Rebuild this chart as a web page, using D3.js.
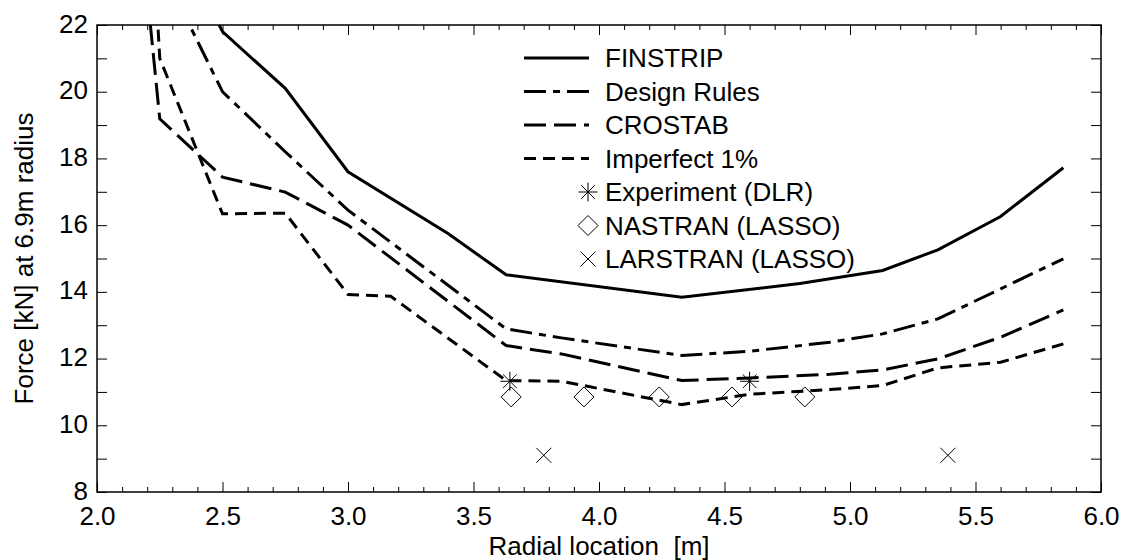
<!DOCTYPE html>
<html>
<head>
<meta charset="utf-8">
<script src="https://cdn.jsdelivr.net/npm/d3@7"></script>
<style>
  html, body { margin: 0; padding: 0; background: #fff; }
  svg { display: block; }
  text { font-family: "Liberation Sans", Arial, Helvetica, sans-serif; fill: #000; }
</style>
</head>
<body>
<svg id="chart" width="1124" height="560"></svg>
<script>
// ---------------- data ----------------
const finstripX = [2.45, 2.5, 2.75, 3.0, 3.4, 3.63, 4.33, 4.8, 5.13, 5.35, 5.6, 5.85];
const finstripY = [22.55, 21.8, 20.1, 17.6, 15.74, 14.51, 13.84, 14.25, 14.64, 15.26, 16.26, 17.72];

const designX = [2.25, 2.5, 2.75, 3.0, 3.63, 3.85, 4.33, 4.6, 4.92, 5.13, 5.35, 5.6, 5.85];
const designY = [23.8, 20.0, 18.2, 16.45, 12.89, 12.62, 12.09, 12.22, 12.49, 12.74, 13.19, 14.09, 14.99];

const crostabX = [2.2, 2.25, 2.5, 2.75, 3.0, 3.63, 3.85, 4.33, 4.6, 4.92, 5.13, 5.35, 5.6, 5.85];
const crostabY = [22.95, 19.19, 17.44, 16.99, 16.0, 12.39, 12.14, 11.34, 11.42, 11.53, 11.66, 11.99, 12.64, 13.46];

const imperfX = [2.235, 2.25, 2.5, 2.75, 3.0, 3.17, 3.63, 3.85, 4.33, 4.6, 4.92, 5.13, 5.35, 5.6, 5.85];
const imperfY = [23.0, 21.0, 16.34, 16.36, 13.92, 13.87, 11.34, 11.32, 10.62, 10.93, 11.07, 11.19, 11.72, 11.89, 12.44];

const experimentX = [3.645, 4.6];
const experimentY = [11.32, 11.32];

const nastranX = [3.65, 3.94, 4.24, 4.53, 4.82];
const nastranY = [10.85, 10.85, 10.85, 10.85, 10.85];

const larstranX = [3.78, 5.39];
const larstranY = [9.1, 9.1];

const xMajorTicks = [2.0, 2.5, 3.0, 3.5, 4.0, 4.5, 5.0, 5.5, 6.0];
const yTicks = [8, 9, 10, 11, 12, 13, 14, 15, 16, 17, 18, 19, 20, 21, 22];

const seriesNames = ["FINSTRIP", "Design Rules", "CROSTAB", "Imperfect 1%",
                     "Experiment (DLR)", "NASTRAN (LASSO)", "LARSTRAN (LASSO)"];

// ---------------- layout ----------------
const svg = d3.select("#chart");
const L = 97, R = 1101, T = 25, B = 492;
const x = d3.scaleLinear().domain([2, 6]).range([L, R]);
const y = d3.scaleLinear().domain([8, 22]).range([B, T]);
const FS = 26;

const xMinorTicks = d3.range(20, 61).map(v => v / 10).filter(v => !xMajorTicks.some(m => Math.abs(m - v) < 1e-9));

// clip
svg.append("defs").append("clipPath").attr("id", "plotclip")
  .append("rect").attr("x", L).attr("y", T).attr("width", R - L).attr("height", B - T);

function styleAxis(g, showLabels) {
  g.select(".domain").remove();
  g.selectAll(".tick line").attr("stroke", "#000").attr("stroke-width", 1);
  g.selectAll(".tick text").attr("font-size", FS).attr("font-family", "Liberation Sans, Arial, sans-serif").attr("fill", "#000");
  if (!showLabels) g.selectAll(".tick text").remove();
}

// bottom axis
svg.append("g").attr("transform", `translate(0,${B})`)
  .call(d3.axisBottom(x).tickValues(xMajorTicks).tickSize(-10).tickPadding(15).tickFormat(d3.format(".1f")))
  .call(g => styleAxis(g, true));
svg.append("g").attr("transform", `translate(0,${B})`)
  .call(d3.axisBottom(x).tickValues(xMinorTicks).tickSize(-5))
  .call(g => styleAxis(g, false));
// top axis
svg.append("g").attr("transform", `translate(0,${T})`)
  .call(d3.axisTop(x).tickValues(xMajorTicks).tickSize(-10))
  .call(g => styleAxis(g, false));
svg.append("g").attr("transform", `translate(0,${T})`)
  .call(d3.axisTop(x).tickValues(xMinorTicks).tickSize(-5))
  .call(g => styleAxis(g, false));
// left axis
svg.append("g").attr("transform", `translate(${L},0)`)
  .call(d3.axisLeft(y).tickValues(yTicks).tickSize(-10).tickPadding(9)
        .tickFormat(d => (d % 2 === 0 ? d3.format("d")(d) : "")))
  .call(g => styleAxis(g, true))
  .call(g => g.selectAll(".tick text").attr("dy", "0.27em"));
// right axis
svg.append("g").attr("transform", `translate(${R},0)`)
  .call(d3.axisRight(y).tickValues(yTicks).tickSize(-10))
  .call(g => styleAxis(g, false));

// frame
svg.append("rect").attr("x", L).attr("y", T).attr("width", R - L).attr("height", B - T)
  .attr("fill", "none").attr("stroke", "#000").attr("stroke-width", 1.5);

// axis titles
svg.append("text").attr("x", (L + R) / 2).attr("y", 555).attr("text-anchor", "middle")
  .attr("font-size", FS).style("white-space", "pre").text("Radial location  [m]");
svg.append("text").attr("transform", `translate(33,${(T + B) / 2}) rotate(-90)`)
  .attr("text-anchor", "middle").attr("font-size", FS).text("Force [kN] at 6.9m radius");

// lines
const lineGen = d3.line().x(d => x(d[0])).y(d => y(d[1]));
const lineSeries = [
  { name: seriesNames[0], xs: finstripX, ys: finstripY, dash: null },
  { name: seriesNames[1], xs: designX, ys: designY, dash: "22,7,7,7" },
  { name: seriesNames[2], xs: crostabX, ys: crostabY, dash: "22,8" },
  { name: seriesNames[3], xs: imperfX, ys: imperfY, dash: "12,7" },
];
const plotG = svg.append("g").attr("clip-path", "url(#plotclip)");
lineSeries.forEach(s => {
  plotG.append("path")
    .datum(d3.zip(s.xs, s.ys))
    .attr("d", lineGen)
    .attr("fill", "none").attr("stroke", "#000").attr("stroke-width", 3)
    .attr("stroke-linejoin", "miter")
    .attr("stroke-dasharray", s.dash);
});

// marker shapes
function asterisk(r) {
  const d = r * 0.72;
  return `M0,${-r}L0,${r}M${-r},0L${r},0M${-d},${-d}L${d},${d}M${-d},${d}L${d},${-d}`;
}
function diamond(r) { return `M0,${-r}L${r},0L0,${r}L${-r},0Z`; }
function cross(r) { return `M${-r},${-r}L${r},${r}M${-r},${r}L${r},${-r}`; }

const markerSeries = [
  { xs: experimentX, ys: experimentY, path: asterisk(9.5) },
  { xs: nastranX, ys: nastranY, path: diamond(10) },
  { xs: larstranX, ys: larstranY, path: cross(7.5) },
];
markerSeries.forEach(s => {
  svg.append("g").selectAll("path").data(d3.zip(s.xs, s.ys)).join("path")
    .attr("transform", d => `translate(${x(d[0])},${y(d[1])})`)
    .attr("d", s.path).attr("fill", "none").attr("stroke", "#000").attr("stroke-width", 1);
});

// legend
const legX0 = 524, legX1 = 589, legTextX = 605, legY0 = 58, legDy = 33.5;
const legG = svg.append("g");
lineSeries.forEach((s, i) => {
  const yy = legY0 + i * legDy;
  legG.append("line").attr("x1", legX0).attr("x2", legX1).attr("y1", yy).attr("y2", yy)
    .attr("stroke", "#000").attr("stroke-width", 3).attr("stroke-dasharray", s.dash);
  legG.append("text").attr("x", legTextX).attr("y", yy).attr("dy", "0.36em")
    .attr("font-size", FS).text(s.name);
});
markerSeries.forEach((s, i) => {
  const yy = legY0 + (i + 4) * legDy;
  legG.append("path").attr("transform", `translate(${legX1 - 1},${yy})`)
    .attr("d", s.path).attr("fill", "none").attr("stroke", "#000").attr("stroke-width", 1);
  legG.append("text").attr("x", legTextX).attr("y", yy).attr("dy", "0.36em")
    .attr("font-size", FS).text(seriesNames[i + 4]);
});
</script>
</body>
</html>
